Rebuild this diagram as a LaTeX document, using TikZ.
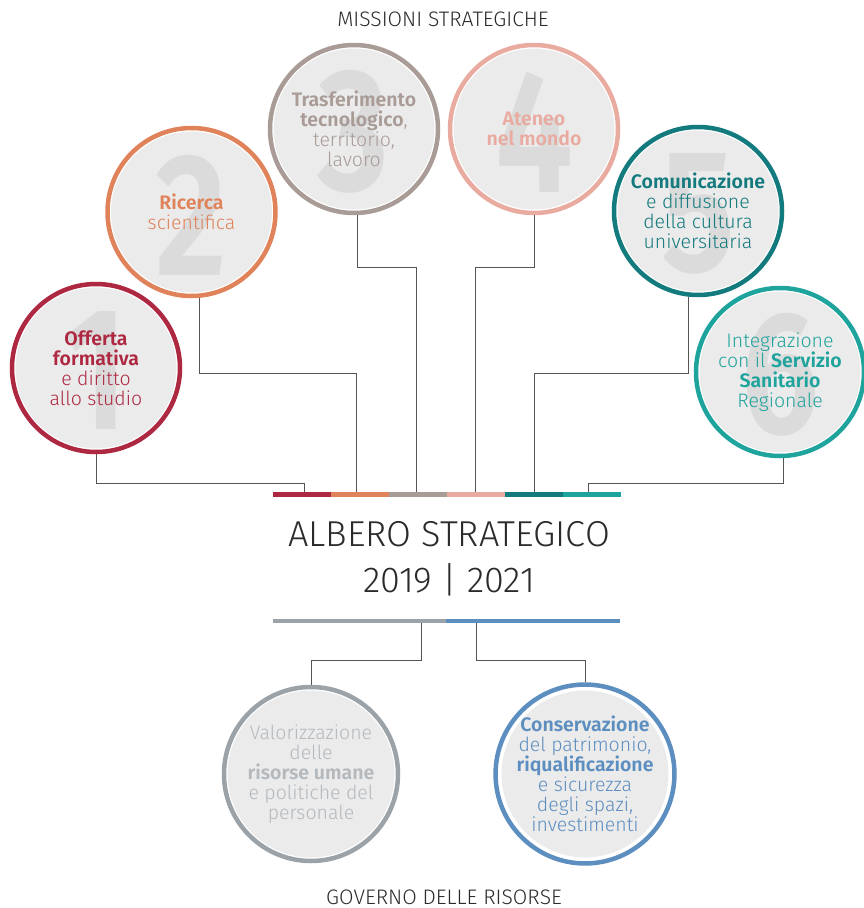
\documentclass[tikz,border=0pt]{standalone}
\usepackage{fontspec}
\setmainfont{Fira Sans Light}[BoldFont={Fira Sans SemiBold}]
\usepackage{tikz}
\usetikzlibrary{positioning}

\definecolor{crimson}{HTML}{AE2841}
\definecolor{coral}{HTML}{E0825A}
\definecolor{taupe}{HTML}{A99B96}
\definecolor{blush}{HTML}{E9AAA0}
\definecolor{petrol}{HTML}{137A7D}
\definecolor{teal}{HTML}{1FA39D}
\definecolor{slate}{HTML}{9BA2A8}
\definecolor{steel}{HTML}{5D8EC0}
\definecolor{discfill}{HTML}{EBEBEB}
\definecolor{numgray}{HTML}{DBDBDB}
\definecolor{linkgray}{HTML}{555555}
\definecolor{inkgray}{HTML}{2B2B2B}

\begin{document}
\begin{tikzpicture}
   [x=1pt,y=-1pt,
    disc/.style={circle,inner sep=0pt,fill=discfill,draw=#1,line width=4.5pt,
       text=#1,align=center,font=\fontsize{19.5}{20}\selectfont},
    gap/.style={white,line width=7pt},
    bignum/.style={text=numgray,inner sep=0pt,xscale=0.8,transform shape,
       font=\fontsize{175}{175}\selectfont\bfseries},
    mission/.style 2 args={disc=#1,minimum size=168pt,
       path picture={
          \node[bignum] at ([yshift=-3pt]path picture bounding box.center) {#2};
          \draw[gap] (path picture bounding box.center) circle (84pt);}},
    resource/.style={disc=#1,minimum size=174pt,
       path picture={\draw[gap] (path picture bounding box.center) circle (87pt);}},
    heading/.style={text=inkgray,inner sep=0pt,font=\fontsize{21}{24}\selectfont},
    title/.style={text=inkgray,inner sep=0pt,font=\fontsize{36}{40}\selectfont},
    bar/.style={line width=5pt},
    link/.style={draw=linkgray,line width=1pt}]
   \useasboundingbox (0,0) rectangle (864,908);

   % headings
   \node[heading,anchor=base] (missions) at (443,26) {MISSIONI STRATEGICHE};
   \node[heading,anchor=base] (governance) at (444,904) {GOVERNO DELLE RISORSE};
   \node[title,anchor=base] (tree) at (449,546) {ALBERO STRATEGICO};
   \node[title,anchor=base] (years) at (449,592) {2019 | 2021};

   % coloured bars
   \draw[bar,crimson] (273,494.5) -- (331,494.5);
   \draw[bar,coral] (331,494.5) -- (389,494.5);
   \draw[bar,taupe] (389,494.5) -- (447,494.5);
   \draw[bar,blush] (447,494.5) -- (505,494.5);
   \draw[bar,petrol] (505,494.5) -- (563,494.5);
   \draw[bar,teal] (563,494.5) -- (621,494.5);
   \draw[bar,slate,line width=4pt] (273,621) -- (446,621);
   \draw[bar,steel,line width=4pt] (446,621) -- (620,621);

   \coordinate (t1) at (304,492);
   \coordinate (t2) at (356,492);
   \coordinate (t3) at (416,492);
   \coordinate (t4) at (475,492);
   \coordinate (t5) at (534,492);
   \coordinate (t6) at (588,492);
   \coordinate (g1) at (421,623);
   \coordinate (g2) at (476,623);

   % missions
   \node[mission={crimson}{1}] (c1) at (96,368)
      {\textbf{Offerta}\\\textbf{formativa}\\e diritto\\allo studio};
   \node[mission={coral}{2}] (c2) at (191.5,212)
      {\textbf{Ricerca}\\scientifica};
   \node[mission={taupe}{3}] (c3) at (354,129)
      {\textbf{Trasferimento}\\\textbf{tecnologico},\\territorio,\\lavoro};
   \node[mission={blush}{4}] (c4) at (534,129)
      {\textbf{Ateneo}\\\textbf{nel mondo}};
   \node[mission={petrol}{5}] (c5) at (698,211)
      {\textbf{Comunicazione}\\e diffusione\\della cultura\\universitaria};
   \node[mission={teal}{6}] (c6) at (780,372)
      {Integrazione\\con il \textbf{Servizio}\\\textbf{Sanitario}\\Regionale};

   % resources
   \node[resource=slate,text=slate!75!white] (r1) at (311,774)
      {Valorizzazione\\delle\\\textbf{risorse umane}\\e politiche del\\personale};
   \node[resource=steel] (r2) at (585,774)
      {\textbf{Conservazione}\\del patrimonio,\\\textbf{riqualificazione}\\e sicurezza\\degli spazi,\\investimenti};

   % links
   \draw[link] (c1.south) |- ([yshift=9pt]t1) -- (t1);
   \draw[link] (c2.275) |- ([yshift=119pt]t2) -- (t2);
   \draw[link] (c3.272) |- ([yshift=225pt]t3) -- (t3);
   \draw[link] (c4.south) |- ([yshift=225pt]t4) -- (t4);
   \draw[link] (c5.264) |- ([yshift=119pt]t5) -- (t5);
   \draw[link] (c6.272) |- ([yshift=9pt]t6) -- (t6);
   \draw[link] (g1) -- ([yshift=-37pt]g1) -| (r1.north);
   \draw[link] (g2) -- ([yshift=-37pt]g2) -| (r2.north);
\end{tikzpicture}
\end{document}
